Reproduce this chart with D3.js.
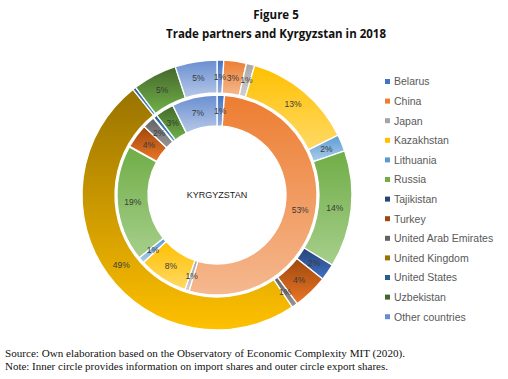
<!DOCTYPE html>
<html>
	<head>
		<meta charset="utf-8">
		<style type="text/css">
			body { margin: 0; background: white; }
			svg { display: block; }
			.title { font-family: "Open Sans", sans-serif; font-weight: bold; font-size: 11.5px; fill: #111; }
			.legend text, .center, .lbl { font-family: "Liberation Sans", "Open Sans", sans-serif; }
			.note { font-family: "Liberation Serif", serif; font-size: 10.5px; fill: #111; }
		</style>
		<title>Figure 5</title>
	</head>
	<body>
		<svg id="graph"></svg>
		<script src="https://cdn.jsdelivr.net/npm/d3@7"></script>
		<script>

var countries = ["Belarus", "China", "Japan", "Kazakhstan", "Lithuania", "Russia", "Tajikistan",
	"Turkey", "United Arab Emirates", "United Kingdom", "United States", "Uzbekistan", "Other countries"];

// import shares (inner ring), in %
var imports = [1.2, 53.3, 0.7, 8.0, 1.0, 18.8, 0.1, 3.9, 2.0, 0.1, 0.6, 3.0, 7.3];
// export shares (outer ring), in %
var exports = [0.8, 2.7, 1.0, 13.2, 2.0, 14.0, 2.0, 4.2, 0.7, 48.7, 0.4, 5.3, 5.0];

var colors = ["#4472c4", "#ed7d31", "#a5a5a5", "#ffc000", "#5b9bd5", "#70ad47", "#264478",
	"#9e480e", "#636363", "#997300", "#255e91", "#43682b", "#698ed0"];

var width = 508, height = 379,
    cx = 217, cy = 195;

var svg = d3.select('#graph')
	.attr("width", width)
	.attr("height", height);

var defs = svg.append("defs");
colors.forEach(function(c, i) {
	var hsl = d3.hsl(c);
	var light = d3.hsl(hsl.h, hsl.s, Math.min(0.82, hsl.l + 0.2));
	var g = defs.append("linearGradient")
		.attr("id", "grad" + i)
		.attr("x1", 0).attr("y1", 0).attr("x2", 0).attr("y2", 1);
	g.append("stop").attr("offset", "0%").attr("stop-color", c);
	g.append("stop").attr("offset", "100%").attr("stop-color", light.formatHex());
});

svg.append("text").attr("class", "title")
	.attr("x", 276).attr("y", 19).attr("text-anchor", "middle")
	.text("Figure 5");
svg.append("text").attr("class", "title")
	.attr("x", 276).attr("y", 38).attr("text-anchor", "middle")
	.text("Trade partners and Kyrgyzstan in 2018");

var pie = d3.pie().sort(null).value(d => d);

var chart = svg.append("g")
	.attr("transform", "translate(" + cx + "," + cy + ")");

function ring(values, r0, r1, cls) {
	var arc = d3.arc().innerRadius(r0).outerRadius(r1);
	var g = chart.append("g").attr("class", cls);
	var arcs = pie(values);
	g.selectAll("path")
		.data(arcs)
		.enter().append("path")
			.attr("d", arc)
			.attr("fill", (d, i) => "url(#grad" + i + ")")
			.attr("stroke", "white")
			.attr("stroke-width", 1.3);
	g.selectAll("text")
		.data(arcs.filter(d => d.data >= 0.7))
		.enter().append("text")
			.attr("class", "lbl")
			.attr("transform", d => "translate(" + arc.centroid(d) + ")")
			.attr("text-anchor", "middle")
			.attr("dy", "0.35em")
			.attr("font-size", "8.5px")
			.attr("fill", "#3a3a3a")
			.text(d => Math.round(d.data) + "%");
}

ring(imports, 69, 100, "inner");
ring(exports, 102, 135, "outer");

chart.append("text").attr("class", "center")
	.attr("x", 0).attr("y", 0).attr("dy", "0.35em")
	.attr("text-anchor", "middle")
	.attr("font-size", "9px")
	.attr("fill", "#222")
	.text("KYRGYZSTAN");

var legend = svg.append("g").attr("class", "legend")
	.selectAll("g")
	.data(countries)
	.enter().append("g")
		.attr("transform", (d, i) => "translate(385," + (82 + i * 19.6) + ")");
legend.append("rect")
	.attr("x", 0).attr("y", -3).attr("width", 5).attr("height", 5)
	.attr("fill", (d, i) => colors[i]);
legend.append("text")
	.attr("x", 9).attr("dy", "0.33em")
	.attr("font-size", "10.5px")
	.attr("fill", "#595959")
	.text(d => d);

svg.append("text").attr("class", "note")
	.attr("x", 5).attr("y", 357)
	.attr("textLength", 400).attr("lengthAdjust", "spacingAndGlyphs")
	.text("Source: Own elaboration based on the Observatory of Economic Complexity MIT (2020).");
svg.append("text").attr("class", "note")
	.attr("x", 5).attr("y", 370)
	.attr("textLength", 383).attr("lengthAdjust", "spacingAndGlyphs")
	.text("Note: Inner circle provides information on import shares and outer circle export shares.");

		</script>
	</body>
</html>
